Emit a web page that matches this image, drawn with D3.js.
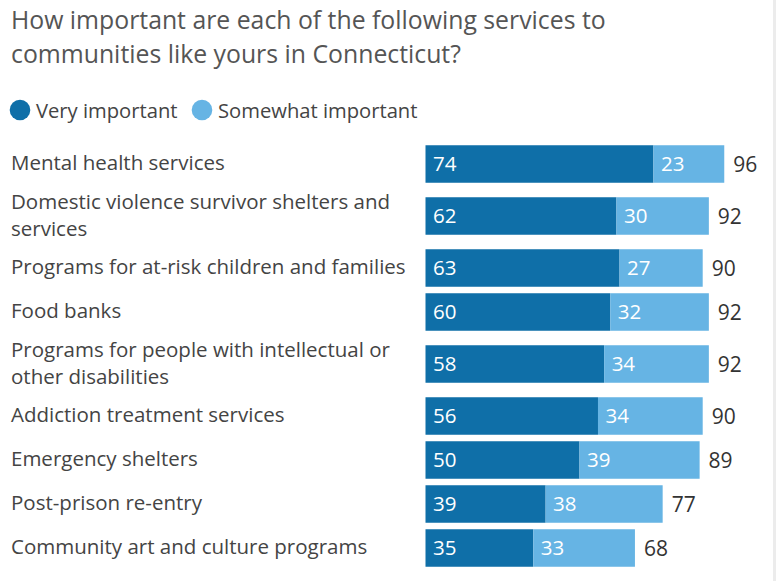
<!DOCTYPE html>
<html><head><meta charset="utf-8">
<script src="https://cdn.jsdelivr.net/npm/d3@7"></script>
<style>
html,body{margin:0;padding:0;background:#fff;}
svg{display:block;font-family:"Open Sans",sans-serif;}
</style></head>
<body>
<svg id="chart" width="776" height="581"></svg>
<script>
const titleLines = ["How important are each of the following services to", "communities like yours in Connecticut?"];
const seriesNames = ["Very important", "Somewhat important"];
const categories = [
  ["Mental health services"],
  ["Domestic violence survivor shelters and", "services"],
  ["Programs for at-risk children and families"],
  ["Food banks"],
  ["Programs for people with intellectual or", "other disabilities"],
  ["Addiction treatment services"],
  ["Emergency shelters"],
  ["Post-prison re-entry"],
  ["Community art and culture programs"]
];
const veryImportant = [74, 62, 63, 60, 58, 56, 50, 39, 35];
const somewhatImportant = [23, 30, 27, 32, 34, 34, 39, 38, 33];
const totals = [96, 92, 90, 92, 92, 90, 89, 77, 68];

const colors = ["#0f6fa8", "#66b4e4"];
const svg = d3.select("#chart");

svg.append("rect").attr("x", 773).attr("y", 0).attr("width", 3).attr("height", 581).attr("fill", "#ececec");

// title
svg.append("g").selectAll("text").data(titleLines).join("text")
  .attr("x", 11).attr("y", (d, i) => 28.5 + i * 34)
  .attr("fill", "#555").attr("font-size", 24.8).text(d => d);

// legend
const leg = svg.append("g");
const legX = [20, 202];
seriesNames.forEach((s, i) => {
  leg.append("circle").attr("cx", legX[i]).attr("cy", 110).attr("r", 10.3).attr("fill", colors[i]);
  leg.append("text").attr("x", legX[i] + 16).attr("y", 118).attr("font-size", 20.2).attr("fill", "#444").text(s);
});

// layout rows
const rowH = categories.map(c => c.length > 1 ? 60 : 44);
const starts = [];
let acc = 142;
rowH.forEach(h => { starts.push(acc); acc += h; });
const centers = starts.map((s, i) => s + rowH[i] / 2);

const x = d3.scaleLinear().domain([0, 100]).range([425.5, 733.5]);
const barH = 37.5;

const rows = svg.append("g").selectAll("g").data(categories).join("g")
  .attr("transform", (d, i) => `translate(0,${centers[i]})`);

rows.each(function (lines, i) {
  const g = d3.select(this);
  const lh = 27;
  const t = g.append("text").attr("font-size", 20.5).attr("fill", "#444");
  lines.forEach((l, j) => {
    t.append("tspan").attr("x", 11)
      .attr("y", (j - (lines.length - 1) / 2) * lh + (lines.length > 1 ? 6.5 : 5.5)).text(l);
  });
  const segs = [[0, veryImportant[i]], [veryImportant[i], veryImportant[i] + somewhatImportant[i]]];
  segs.forEach((s, k) => {
    g.append("rect").attr("x", x(s[0])).attr("y", -barH / 2)
      .attr("width", x(s[1]) - x(s[0])).attr("height", barH)
      .attr("fill", colors[k]);
    g.append("text").attr("x", x(s[0]) + 7.5).attr("y", 6.7)
      .attr("font-size", 20.5).attr("fill", "#fff")
      .text(k === 0 ? veryImportant[i] : somewhatImportant[i]);
  });
  g.append("text").attr("x", x(segs[1][1]) + 9).attr("y", 7.5)
    .attr("font-size", 21).attr("fill", "#333").text(totals[i]);
});
</script>
</body></html>
